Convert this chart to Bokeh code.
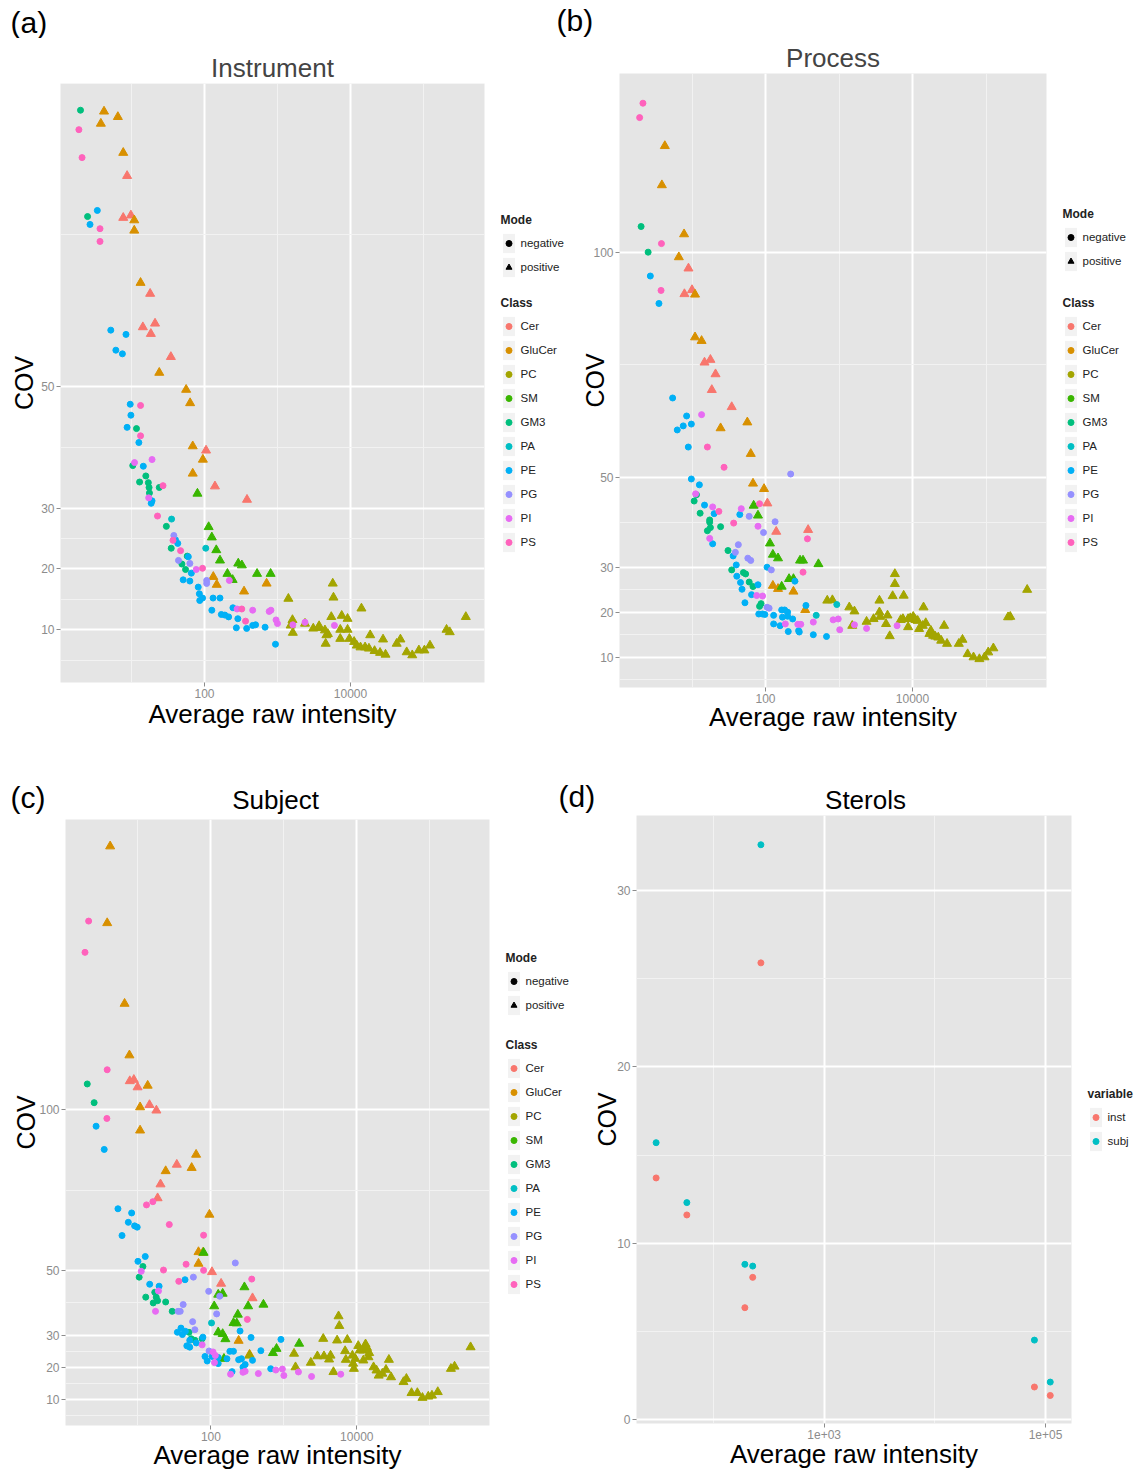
from bokeh.plotting import figure
from bokeh.models import (Range1d, FixedTicker, Label, Legend, LegendItem,
                          ColumnDataSource, NumeralTickFormatter, CustomJSTickFormatter)
from bokeh.layouts import column, row
from bokeh.embed import file_html
from bokeh.resources import INLINE

FONT = "Liberation Sans"

# ---------------- categories ----------------
CLASSES = ["Cer", "GluCer", "PC", "SM", "GM3", "PA", "PE", "PG", "PI", "PS"]
CLASS_COLORS = ["#F8766D", "#D89000", "#A3A500", "#39B600", "#00BF7D",
                "#00BFC4", "#00B0F6", "#9590FF", "#E76BF3", "#FF62BC"]
CLASS_MODE = ["positive", "positive", "positive", "positive", "negative",
              "negative", "negative", "negative", "negative", "negative"]
MODES = ["negative", "positive"]
MODE_MARKERS = ["circle", "triangle"]
STEROL_VARS = ["inst", "subj"]
STEROL_COLORS = ["#F8766D", "#00BFC4"]

PANEL_TITLES = ["Instrument", "Process", "Subject", "Sterols"]
PANEL_TAGS = ["(a)", "(b)", "(c)", "(d)"]
X_LABEL = "Average raw intensity"
Y_LABEL = "COV"
LIPID_Y_TICKS = [10, 20, 30, 50, 100]
LIPID_X_TICKS = [100, 10000]
STEROL_Y_TICKS = [0, 10, 20, 30]
STEROL_X_TICKS = [1000, 100000]

# ---------------- (a) Instrument: (average raw intensity, COV) ----------------
INST_CER = [(8.7, 84.7), (7.7, 77.8), (9.8, 78.2), (18, 65.3), (14.3, 59.8), (21, 60.4),
            (18.4, 58.7), (34.6, 54.9), (105, 39.5), (139, 33.6), (382, 31.4)]
INST_GLUCER = [(4.2, 95.3), (6.5, 94.4), (3.8, 93.3), (7.7, 88.5), (10.9, 77.4), (10.9, 75.7),
               (13.3, 67.1), (24, 52.3), (56, 49.5), (63.5, 47.3), (69, 40.2), (95, 38.0),
               (69, 35.7), (132, 18.7), (147, 17.4), (709, 17.6), (348, 16.3)]
INST_SM = [(80, 32.4), (114, 26.9), (126, 25.2), (145, 23.1), (163, 21.4), (290, 20.9),
           (325, 20.6), (206, 19.2), (243, 18.2), (525, 19.2), (805, 19.2)]
INST_PC = [(1409, 15.1), (1603, 11.6), (1514, 10.7), (1622, 9.5), (2382, 11.0), (3090, 10.2),
           (3631, 10.3), (3715, 10.6), (4467, 9.9), (4677, 9.1), (4898, 9.3), (4571, 7.7),
           (5715, 17.6), (5848, 15.3), (5458, 12.1), (7244, 10.0), (7244, 8.5), (7586, 12.3),
           (9120, 11.8), (9120, 10.0), (9661, 8.5), (11220, 8.0), (12190, 7.4), (13710, 7.1),
           (15850, 7.1), (17900, 6.9), (21380, 6.5), (25410, 6.2), (30200, 5.9), (14130, 13.5),
           (18620, 9.1), (27930, 8.4), (42950, 7.7), (48310, 8.4), (58880, 6.3), (70150, 5.8),
           (86500, 6.6), (103000, 6.6), (122700, 7.4), (207000, 10.0), (229100, 9.6),
           (380200, 12.1)]
INST_GM3 = [(2.0, 95.5), (2.5, 78.0), (11.7, 43.1), (10.4, 37.0), (15.7, 35.3), (12.9, 34.3),
            (17, 34.2), (17.4, 33.4), (24, 33.4), (17.6, 32.5), (30, 27.0), (35, 23.4),
            (58, 22.1), (49, 20.8), (55, 19.9)]
INST_PA = [(35.4, 28.2), (104, 23.4)]
INST_PE = [(3.4, 79.0), (2.7, 76.7), (5.2, 59.3), (8.4, 58.6), (6.1, 56.0), (7.5, 55.4),
           (9.6, 47.1), (9.8, 45.3), (8.7, 43.3), (12.6, 40.8), (14.5, 36.9), (19.1, 31.2),
           (18.6, 30.8), (40, 24.8), (43, 24.2), (60, 22.0), (66, 19.3), (51, 18.2), (63, 18.0),
           (82, 17.0), (85, 15.9), (94, 15.2), (86, 14.8), (131, 15.2), (163, 15.2), (126, 13.2),
           (170, 12.5), (190, 12.4), (214, 12.1), (245, 13.6), (286, 11.8), (273, 10.3),
           (378, 10.2), (457, 10.7), (501, 10.8), (676, 10.4), (938, 7.6)]
INST_PG = [(38, 25.5), (44, 21.4), (63, 20.9), (107, 18.1), (107, 17.6)]
INST_PI = [(11, 37.5), (19.1, 38.0), (17.2, 31.7), (77, 19.9), (219, 18.1), (279, 13.4),
           (457, 13.2), (769, 13.0), (813, 13.2), (955, 11.6), (1000, 11.0), (1622, 10.8),
           (2382, 11.2), (6026, 10.7)]
INST_PS = [(1.9, 92.3), (2.1, 87.7), (3.7, 76.0), (3.7, 73.9), (13.3, 46.9), (13.3, 41.9),
           (27, 33.7), (22.7, 28.7), (37, 24.7), (47, 23.0), (94, 20.1), (324, 13.4), (365, 11.4)]

# ---------------- (b) Process ----------------
PROC_CER = [(8.95, 96.4), (7.89, 90.7), (10.0, 91.6), (14.8, 75.5), (17.8, 76.1), (20.9, 72.9),
            (18.6, 69.4), (34.7, 65.6), (106, 44.2), (140, 37.9), (380, 38.3)]
PROC_GLUCER = [(4.27, 123.6), (3.89, 114.9), (7.8, 104.0), (6.62, 98.9), (11.0, 90.6),
               (11.0, 81.1), (13.5, 80.3), (56.6, 62.2), (24.5, 60.9), (63, 55.2), (67.6, 48.6),
               (95.5, 47.4), (126, 25.9), (148, 25.2), (240, 24.6), (347, 20.5)]
PROC_SM = [(69, 43.7), (79, 41.5), (115, 35.3), (126, 32.8), (148, 32.0), (295, 31.5),
           (324, 31.5), (525, 30.7), (209, 27.4), (240, 27.4), (166, 25.7)]
PROC_PC = [(692, 22.6), (813, 22.7), (1380, 21.1), (1622, 20.2), (1514, 17.0), (2371, 17.9),
           (2951, 18.5), (3548, 20.0), (3631, 19.0), (3548, 22.6), (4571, 19.3), (4365, 17.4),
           (4898, 14.7), (5754, 28.5), (5754, 26.3), (5370, 23.6), (7586, 23.7), (6918, 18.3),
           (7413, 18.5), (8710, 18.5), (8710, 16.7), (9333, 18.7), (10230, 19.0), (10960, 18.3),
           (11750, 18.1), (12300, 16.3), (13800, 17.0), (14130, 21.1), (15140, 17.6),
           (16980, 15.2), (17780, 15.9), (19050, 14.8), (20420, 14.6), (22390, 14.4),
           (24550, 13.7), (26920, 17.0), (29510, 13.0), (42660, 13.0), (47860, 13.9),
           (56230, 10.7), (67610, 10.0), (81280, 9.6), (95500, 10.0), (107200, 11.1),
           (125900, 12.0), (199500, 18.9), (213800, 19.0), (363100, 25.0)]
PROC_GM3 = [(2.03, 105.7), (2.53, 100.0), (11.5, 46.1), (10.7, 44.7), (12.9, 42.0),
            (17.4, 40.5), (17.4, 40.0), (24.5, 39.0), (17.8, 38.8), (16.2, 38.1), (30.9, 33.7),
            (34.7, 29.4), (50, 28.8), (53.7, 28.5), (60, 26.7), (67.6, 25.7), (87, 21.9),
            (83, 21.3)]
PROC_PA = [(933, 21.7), (490, 19.3)]
PROC_PE = [(2.71, 94.7), (3.55, 88.6), (5.45, 67.6), (8.45, 63.6), (6.3, 60.5), (7.6, 61.4),
           (9.8, 61.8), (8.9, 56.7), (9.8, 49.6), (12.6, 48.3), (14.8, 43.8), (20, 41.9),
           (44.7, 41.7), (19.1, 35.2), (36.3, 32.5), (40, 30.5), (105, 30.0), (40.7, 28.0),
           (251, 26.9), (45.7, 26.6), (79, 26.1), (47.9, 25.1), (64.6, 23.9), (52.5, 22.1),
           (355, 21.5), (81, 19.6), (91, 19.6), (98, 19.5), (129, 19.3), (166, 20.5),
           (182, 20.5), (200, 20.0), (170, 18.9), (200, 19.1), (234, 18.5), (129, 17.4),
           (158, 17.0), (282, 15.9), (288, 15.6), (204, 15.7), (447, 15.0), (676, 14.6)]
PROC_PG = [(220, 50.7), (60, 41.3), (135, 40.1), (94, 37.7), (42.7, 35.0), (38.9, 33.3),
           (57.5, 32.0), (63, 31.5), (120, 29.4), (105, 21.1), (112, 20.9)]
PROC_PI = [(13.5, 63.9), (11.2, 46.3), (19.1, 43.4), (46.8, 43.0), (79, 39.1), (17.4, 36.4),
           (75.9, 23.7), (91.2, 23.6), (832, 18.3), (977, 18.5), (186, 17.4), (275, 17.3),
           (302, 17.3), (447, 17.8), (1023, 16.1), (1622, 17.2), (2371, 16.4), (6166, 17.0)]
PROC_PS = [(2.15, 133.1), (1.94, 129.9), (3.84, 101.9), (3.79, 91.5), (16.2, 56.7),
           (27.3, 52.2), (23.2, 42.4), (83, 44.1), (36.9, 39.8), (372, 36.3), (324, 28.9)]

# ---------------- (c) Subject ----------------
SUBJ_CER = [(7.73, 108.8), (8.79, 109.2), (9.89, 106.9), (14.4, 101.4), (17.9, 99.7),
            (34.1, 82.9), (20.4, 76.8), (18.6, 72.5), (103.5, 49.6), (138, 46.0), (372, 41.5)]
SUBJ_GLUCER = [(4.16, 181.6), (3.79, 157.8), (6.56, 132.8), (7.64, 116.8), (13.6, 107.4),
               (10.7, 100.7), (10.7, 93.5), (62.7, 86.0), (54.5, 81.9), (24, 80.9), (95.5, 67.4),
               (67.6, 55.8), (77.6, 55.6), (67.6, 52.2), (240, 28.3), (339, 24.0)]
SUBJ_SM = [(79.4, 55.6), (288, 44.9), (126, 42.6), (145, 42.9), (111, 39.0), (324, 39.0),
           (525, 39.5), (234, 36.4), (204, 33.8), (226, 33.7), (126, 30.9), (145, 30.4),
           (158, 28.8), (794, 25.8), (708, 24.5), (1622, 27.4), (151, 22.7)]
SUBJ_PC = [(339, 23.7), (1445, 20.1), (1380, 24.3), (2344, 21.5), (2884, 23.5), (3548, 23.5),
           (4169, 22.5), (4365, 23.7), (3467, 28.9), (4786, 18.6), (5370, 28.4), (5623, 35.9),
           (5754, 32.9), (7413, 28.6), (6918, 25.1), (7079, 22.4), (8710, 23.7), (8913, 21.2),
           (9120, 19.6), (9550, 22.7), (10470, 26.7), (10960, 25.3), (12300, 25.3),
           (13180, 27.2), (13800, 26.1), (14450, 23.2), (14790, 24.5), (12300, 22.2),
           (16980, 20.1), (18620, 19.1), (19950, 17.5), (22390, 18.1), (25120, 19.3),
           (27540, 22.4), (29510, 17.0), (43650, 15.5), (47860, 16.5), (56230, 12.1),
           (67610, 12.1), (79430, 10.6), (95500, 11.0), (107200, 11.3), (128800, 12.4),
           (195000, 19.6), (218800, 20.3), (363100, 26.3)]
SUBJ_GM3 = [(2.02, 107.9), (2.51, 102.1), (11.7, 51.3), (10.4, 48.0), (17, 43.3), (17.8, 41.8),
            (12.8, 41.8), (16.2, 40.0), (18.6, 40.7), (24, 40.3), (29.5, 37.4), (50.1, 30.9),
            (53.7, 28.9), (60.3, 28.4), (75.9, 28.9)]
SUBJ_PA = [(102, 33.8)]
SUBJ_PE = [(2.67, 94.8), (3.45, 87.6), (5.32, 69.2), (8.2, 67.9), (7.38, 65.0), (9.0, 63.9),
           (9.77, 63.5), (6.05, 60.9), (12.6, 54.4), (10, 52.9), (44.2, 47.2), (14.5, 45.8),
           (19.5, 45.2), (251, 31.3), (38.9, 32.2), (34.7, 30.9), (40.7, 30.2), (44.7, 31.2),
           (77.6, 29.4), (51.3, 28.4), (46.8, 26.7), (51.3, 26.3), (63.1, 27.6), (355, 29.3),
           (912, 28.7), (484, 25.2), (83, 23.4), (89, 22.0), (103.5, 23.4), (126, 23.1),
           (166, 22.7), (182, 25.0), (204, 25.0), (240, 22.4), (263, 22.7), (295, 20.9),
           (372, 22.2), (126, 21.2), (661, 19.6), (195, 18.7), (275, 20.1)]
SUBJ_PG = [(216, 52.4), (57.5, 48.0), (93.3, 43.6), (132, 42.1), (41.7, 39.5), (35.5, 37.4),
           (38, 37.4), (120, 36.6), (56.2, 34.2), (60.3, 31.7), (94.4, 25.1)]
SUBJ_PI = [(11.1, 49.8), (19.1, 43.7), (17.4, 37.4), (75.9, 27.0), (112, 21.5), (107, 24.8),
           (115, 23.7), (776, 19.2), (955, 19.5), (1000, 17.5), (186, 17.9), (275, 18.5),
           (295, 18.8), (447, 18.1), (1585, 18.6), (2399, 17.2), (6026, 17.9)]
SUBJ_PS = [(2.11, 158.4), (1.88, 148.7), (3.79, 112.3), (3.75, 97.2), (13.1, 70.4), (16, 71.4),
           (26.9, 64.3), (79.4, 61.0), (45.7, 52.0), (22.4, 50.2), (79.4, 50.1), (36.3, 46.7),
           (363, 47.4), (316, 34.9)]

# ---------------- (d) Sterols ----------------
STEROL_INST = [(30.3, 13.7), (57.4, 11.6), (192, 6.34), (226, 8.06), (268, 25.9),
               (79400, 1.84), (110400, 1.36)]
STEROL_SUBJ = [(30.3, 15.7), (57.4, 12.3), (192, 8.8), (226, 8.7), (268, 32.6),
               (79400, 4.5), (110400, 2.12)]

INST = [INST_CER, INST_GLUCER, INST_PC, INST_SM, INST_GM3, INST_PA, INST_PE, INST_PG, INST_PI, INST_PS]
PROC = [PROC_CER, PROC_GLUCER, PROC_PC, PROC_SM, PROC_GM3, PROC_PA, PROC_PE, PROC_PG, PROC_PI, PROC_PS]
SUBJ = [SUBJ_CER, SUBJ_GLUCER, SUBJ_PC, SUBJ_SM, SUBJ_GM3, SUBJ_PA, SUBJ_PE, SUBJ_PG, SUBJ_PI, SUBJ_PS]

NAN = float("nan")


def make_fig(width, height, fl, ft, fw, fh, xr, yr, xticks, xminor, yticks, yminor,
             title=None, sterol=False, ylab_standoff=0, xlab_standoff=-2):
    kw = dict(width=width, height=height, x_axis_type="log",
              x_range=Range1d(*xr), y_range=Range1d(*yr),
              output_backend="svg", toolbar_location=None, frame_align=False,
              min_border_left=fl, min_border_top=ft,
              min_border_right=width - fl - fw, min_border_bottom=height - ft - fh)
    if title is None:
        kw["title"] = None
    p = figure(**kw)
    p.background_fill_color = "#E5E5E5"
    p.border_fill_color = "white"
    p.outline_line_color = None
    xt = FixedTicker(ticks=xticks, minor_ticks=xminor)
    yt = FixedTicker(ticks=yticks, minor_ticks=yminor)
    p.xaxis.ticker = xt
    p.yaxis.ticker = yt
    p.xgrid.ticker = xt
    p.ygrid.ticker = yt
    if sterol:
        p.xaxis.formatter = CustomJSTickFormatter(
            code="var s = tick.toExponential(0); return s.replace(/e\\+(\\d)$/, 'e+0$1');")
    else:
        p.xaxis.formatter = NumeralTickFormatter(format="0")
    p.grid.grid_line_color = "white"
    p.grid.grid_line_width = 2
    p.grid.minor_grid_line_color = "#F2F2F2"
    p.grid.minor_grid_line_width = 1
    for ax in (p.xaxis, p.yaxis):
        ax.axis_line_color = None
        ax.major_tick_line_color = "#8C8C8C"
        ax.major_tick_out = 4
        ax.major_tick_in = 0
        ax.minor_tick_out = 0
        ax.minor_tick_in = 0
        ax.major_label_text_font = FONT
        ax.major_label_text_font_size = "12px"
        ax.major_label_text_color = "#8C8C8C"
        ax.major_label_standoff = 2
        ax.axis_label_text_font = FONT
        ax.axis_label_text_font_style = "normal"
        ax.axis_label_text_color = "black"
    p.xaxis.axis_label = X_LABEL
    p.yaxis.axis_label = Y_LABEL
    p.xaxis.axis_label_text_font_size = "26px"
    p.yaxis.axis_label_text_font_size = "25px"
    p.xaxis.axis_label_standoff = xlab_standoff
    p.yaxis.axis_label_standoff = ylab_standoff
    if title is not None:
        p.title.text = title
        p.title.align = "center"
        p.title.text_font = FONT
        p.title.text_font_size = "26px"
        p.title.text_font_style = "normal"
        p.title.standoff = 2
    return p


def blank_fig(width, height):
    p = figure(width=width, height=height, x_range=Range1d(0, width), y_range=Range1d(height, 0),
               output_backend="svg", toolbar_location=None, title=None, frame_align=False,
               x_axis_location=None, y_axis_location=None, min_border=0)
    p.xgrid.visible = False
    p.ygrid.visible = False
    p.outline_line_color = None
    p.background_fill_color = "white"
    p.border_fill_color = "white"
    return p


def add_text(p, text, x, y, size, align="left"):
    p.add_layout(Label(x=x, y=y, text=text, text_font=FONT, text_font_size=size,
                       text_baseline="middle", text_align=align, text_color="black"))


def add_legend(p, title, entries, loc):
    src = ColumnDataSource(data=dict(x=[NAN], y=[NAN]))
    bg = p.rect(x="x", y="y", width=1, height=1, source=src,
                fill_color="#F2F2F2", line_color=None)
    items = []
    for label, marker, color in entries:
        r = p.scatter(x="x", y="y", source=src, marker=marker, size=6,
                      fill_color=color, line_color=color)
        items.append(LegendItem(label=label, renderers=[bg, r]))
    leg = Legend(items=items, title=title, location=loc, orientation="vertical",
                 glyph_width=15, glyph_height=24, label_height=24, spacing=0,
                 padding=2, margin=0, label_standoff=5,
                 label_text_font=FONT, label_text_font_size="11.5px", label_text_color="#222222",
                 title_text_font=FONT, title_text_font_size="12px", title_text_font_style="bold",
                 title_text_color="#222222", title_standoff=4,
                 background_fill_alpha=0, border_line_color=None)
    p.add_layout(leg)


def draw_lipids(p, groups):
    for pts, color, mode in zip(groups, CLASS_COLORS, CLASS_MODE):
        if not pts:
            continue
        xs = [a for a, b in pts]
        ys = [b for a, b in pts]
        marker = MODE_MARKERS[MODES.index(mode)]
        size = 9 if marker == "triangle" else 6
        p.scatter(xs, ys, marker=marker, size=size, fill_color=color, line_color=color)


MODE_ENTRIES = [(m, mk, "black") for m, mk in zip(MODES, MODE_MARKERS)]
CLASS_ENTRIES = [(c, "circle", col) for c, col in zip(CLASSES, CLASS_COLORS)]
LIPID_X_MINOR = [10, 1000, 100000]
LIPID_Y_MINOR = [5, 15, 25, 40, 75]

# ---- top strip with panel tags (a), (b): y 0..38
strip_top = blank_fig(1142, 38)
add_text(strip_top, PANEL_TAGS[0], 10, 22, "30px")
add_text(strip_top, PANEL_TAGS[1], 556, 20, "30px")

# ---- top row: y 38..740 (height 702)
pa = make_fig(488, 702, 60, 45, 424, 599, (10 ** 0.027, 10 ** 5.836), (1.3, 99.9),
              LIPID_X_TICKS, LIPID_X_MINOR, LIPID_Y_TICKS, LIPID_Y_MINOR,
              title=PANEL_TITLES[0], ylab_standoff=0, xlab_standoff=-2)
draw_lipids(pa, INST)

leg_a = blank_fig(86, 702)                      # x 488..574
add_legend(leg_a, "Mode", MODE_ENTRIES, (12.5, 461))
add_legend(leg_a, "Class", CLASS_ENTRIES, (12.5, 186))

pb = make_fig(474, 702, 45, 35, 427, 614, (10 ** 0.0136, 10 ** 5.823), (3.27, 139.7),
              LIPID_X_TICKS, LIPID_X_MINOR, LIPID_Y_TICKS, LIPID_Y_MINOR,
              title=PANEL_TITLES[1], ylab_standoff=-19, xlab_standoff=-4)
draw_lipids(pb, PROC)

leg_b = blank_fig(94, 702)                      # x 1048..1142
add_legend(leg_b, "Mode", MODE_ENTRIES, (14.5, 467))
add_legend(leg_b, "Class", CLASS_ENTRIES, (14.5, 186))

# ---- bottom strip with tags and titles: y 740..815
strip_bot = blank_fig(1142, 75)
add_text(strip_bot, PANEL_TAGS[2], 10, 57, "30px")
add_text(strip_bot, PANEL_TAGS[3], 558, 56, "30px")
add_text(strip_bot, PANEL_TITLES[2], 275, 59, "26px", align="center")
add_text(strip_bot, PANEL_TITLES[3], 865, 59, "26px", align="center")

# ---- bottom row: y 815..1478 (height 663)
pc = make_fig(491, 663, 65, 4, 424, 606, (10 ** 0.007, 10 ** 5.819), (2.0, 189.9),
              LIPID_X_TICKS, LIPID_X_MINOR, LIPID_Y_TICKS, LIPID_Y_MINOR,
              ylab_standoff=-4, xlab_standoff=-4)
draw_lipids(pc, SUBJ)

leg_c = blank_fig(87, 663)                      # x 491..578
add_legend(leg_c, "Mode", MODE_ENTRIES, (14.5, 461))
add_legend(leg_c, "Class", CLASS_ENTRIES, (14.5, 182))

pd = make_fig(495, 663, 58, 0, 435, 608, (10 ** 1.304, 10 ** 5.235), (-0.23, 34.26),
              STEROL_X_TICKS, [100, 10000], STEROL_Y_TICKS, [5, 15, 25],
              sterol=True, ylab_standoff=-7, xlab_standoff=-3)
for pts, color in zip([STEROL_INST, STEROL_SUBJ], STEROL_COLORS):
    pd.scatter([a for a, b in pts], [b for a, b in pts], marker="circle", size=6,
               fill_color=color, line_color=color)

leg_d = blank_fig(69, 663)                      # x 1073..1142
add_legend(leg_d, "variable", [(v, "circle", c) for v, c in zip(STEROL_VARS, STEROL_COLORS)],
           (14.5, 325))

layout = column(strip_top, row(pa, leg_a, pb, leg_b), strip_bot, row(pc, leg_c, pd, leg_d))
open("out.html", "w").write(file_html(layout, INLINE))
